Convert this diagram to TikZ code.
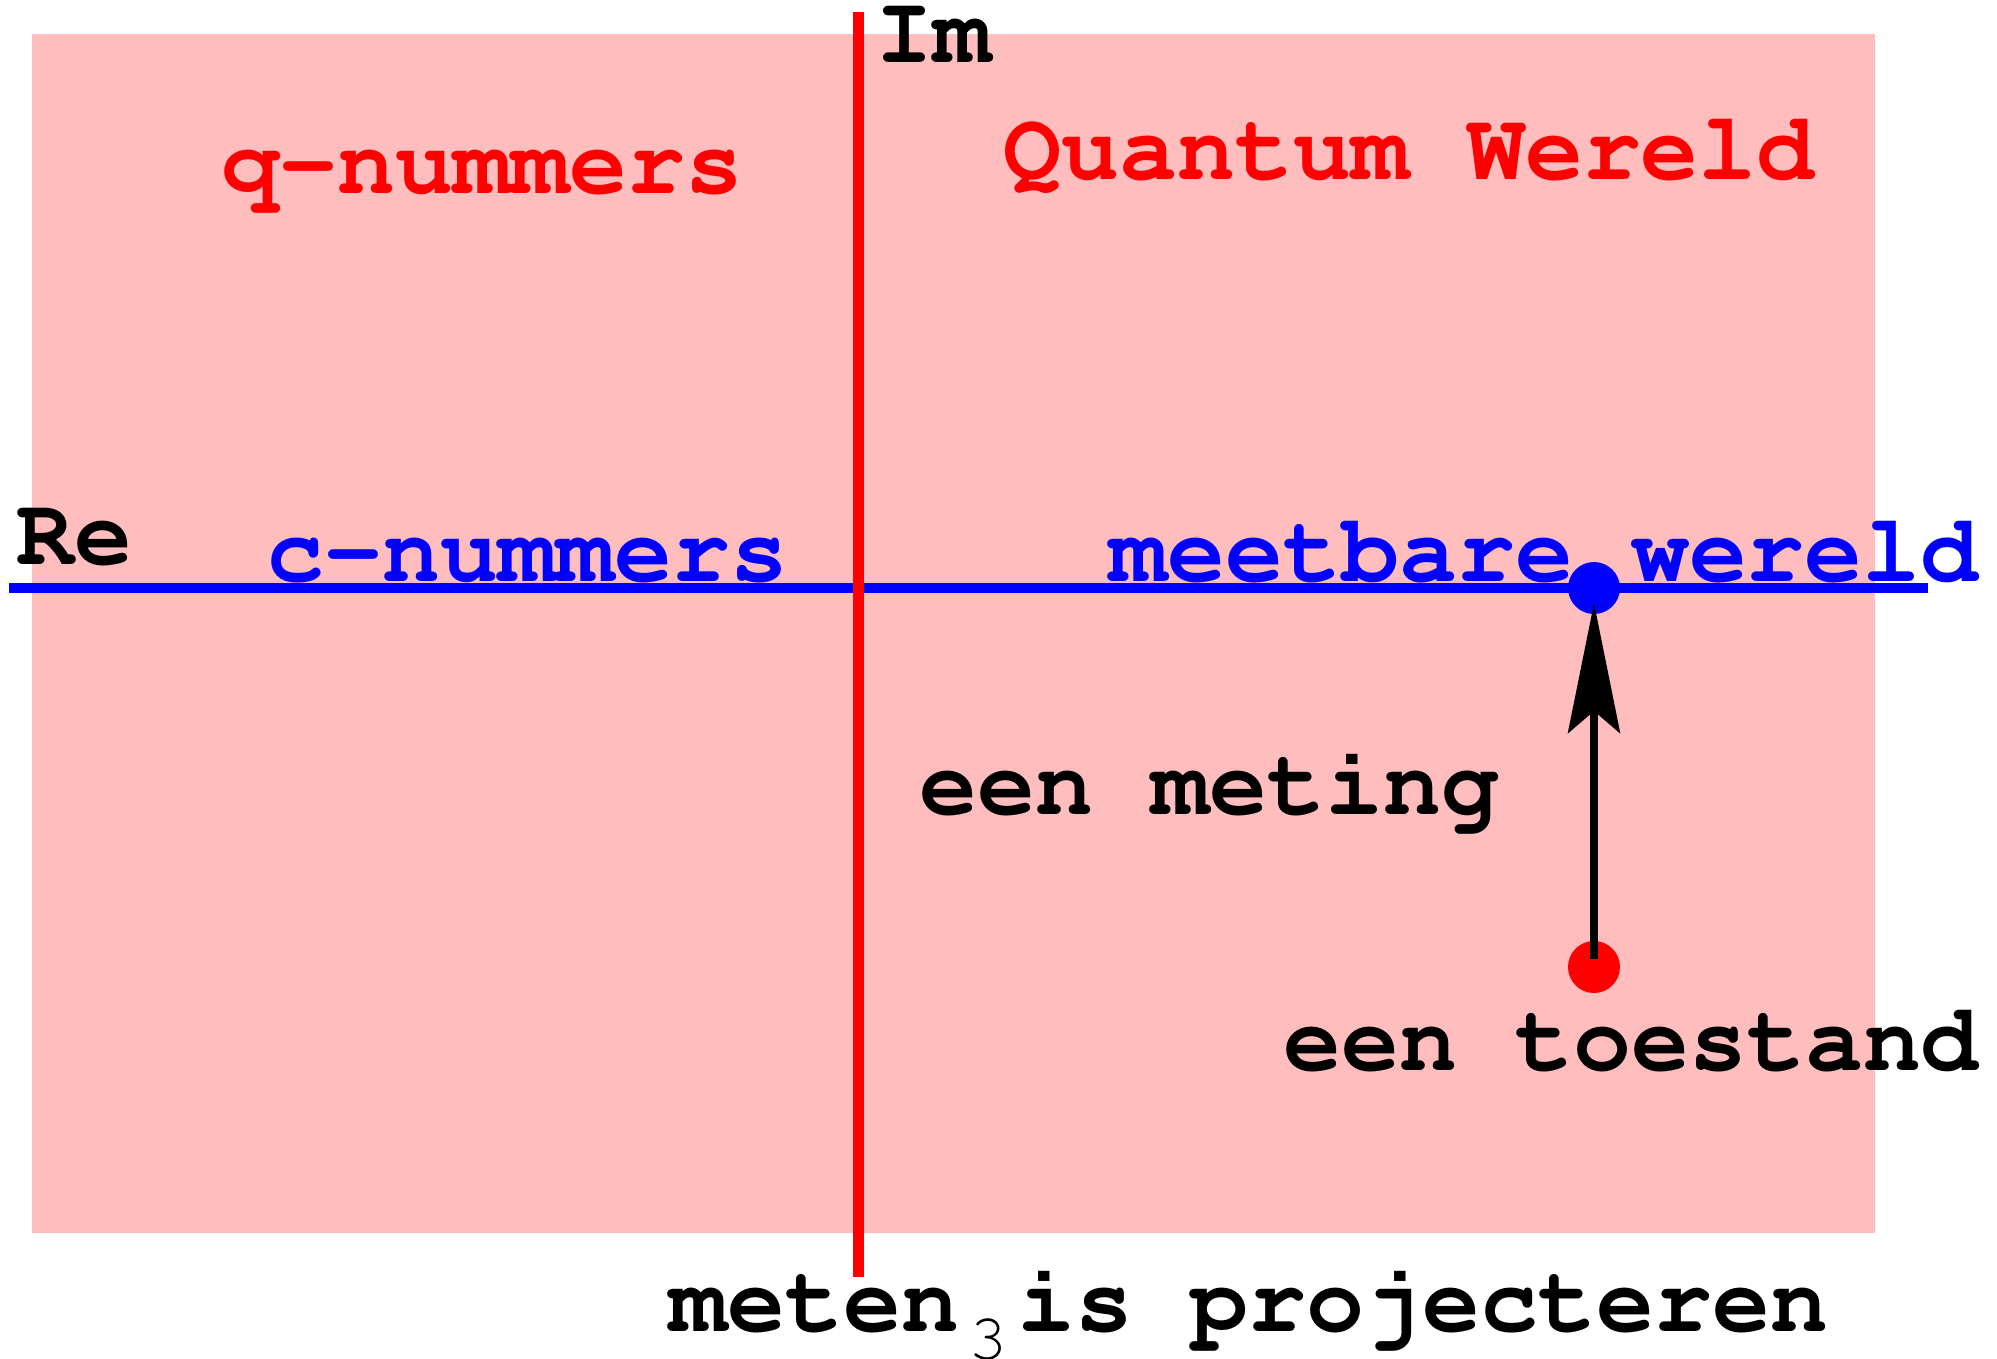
\documentclass[tikz,border=0pt]{standalone}
\usepackage[T1]{fontenc}
\usetikzlibrary{arrows.meta}

\definecolor{veld}{RGB}{255,189,189}

\tikzset{
  tekst/.style={inner sep=0pt, anchor=base west,
    font=\fontsize{48.3}{56}\fontfamily{pcr}\fontseries{b}\selectfont},
  as/.style={line width=5.5pt, red},
  reeel/.style={line width=5pt, blue},
  punt/.style={circle, inner sep=0pt, minimum size=26pt},
  meetpijl/.style={line width=3.75pt, black,
    -{Stealth[length=65pt, width=26pt, inset=11pt]},
    shorten <=4pt, shorten >=7.5pt}
}

\begin{document}
\begin{tikzpicture}[x=0.5pt, y=-0.5pt]
  \useasboundingbox (0,0) rectangle (1997,1359);
  \clip (0,0) rectangle (1997,1359);

  % the complex plane
  \fill[veld] (32,34) rectangle (1875,1233);

  % real axis
  \coordinate (re-links) at (9,588);
  \coordinate (re-rechts) at (1928,588);
  \draw[reeel] (re-links) -- (re-rechts);

  % imaginary axis
  \coordinate (im-boven) at (858.5,12);
  \coordinate (im-onder) at (858.5,1277);
  \draw[as] (im-boven) -- (im-onder);

  % axis labels
  \node[tekst] (im) at (875,63) {Im};
  \node[tekst] (re) at (16,564) {Re};

  % region labels
  \node[tekst, text=red] (qnum) at (221,193) {q-nummers};
  \node[tekst, text=red] (quantum) at (1003,179) {Quantum Wereld};
  \node[tekst, text=blue] (cnum) at (266,581) {c-nummers};
  \node[tekst, text=blue] (meetbaar) at (1109,581) {meetbare wereld};

  % state and its measured value
  \node[punt, fill=blue] (meting) at (1594,588) {};
  \node[punt, fill=red] (toestand) at (1594,967) {};
  \draw[meetpijl] (toestand.center) -- (meting.center);

  \node[tekst] (lbl-meting) at (919,814) {een meting};
  \node[tekst] (lbl-toestand) at (1283,1070) {een toestand};

  % caption
  \node[tekst] (onderschrift) at (669,1331)
    {meten\makebox[0.6em]{\raisebox{-0.29em}{\fontsize{33}{33}\fontseries{m}\selectfont 3}}is projecteren};
\end{tikzpicture}
\end{document}
